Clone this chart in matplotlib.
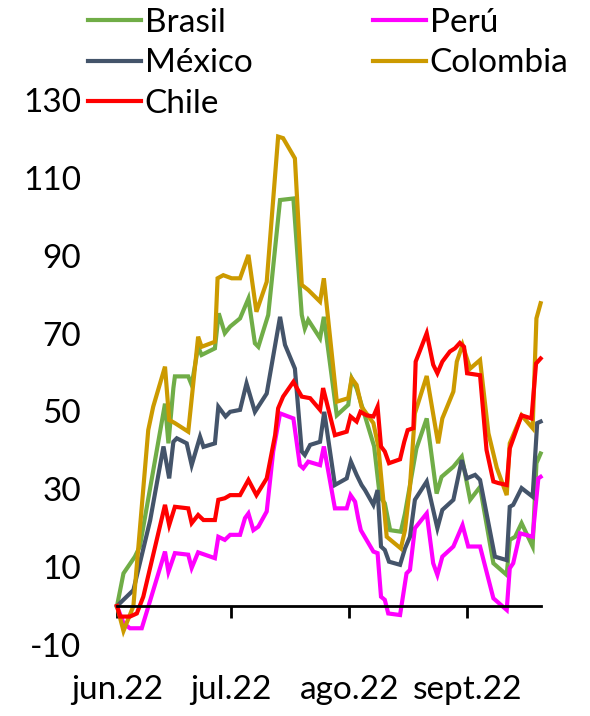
import matplotlib
matplotlib.use("Agg")
import matplotlib.pyplot as plt
import pandas as pd

# ---------------- data (x = days since 2022-06-01) ----------------
series_names = ["Brasil", "Perú", "México", "Colombia", "Chile"]
series_colors = ["#70AD47", "#FF00FF", "#44546A", "#CC9A00", "#FF0000"]

br_d = [0, 1.7, 4.7, 6.0, 12.6, 13.5, 14.8, 15.2, 18.7, 19.6, 21.3, 22.2, 25.7, 26.7, 28.3, 29.7, 32.3, 34.5,
        36.2, 37.1, 39.7, 42.8, 46.3, 48.5, 49.3, 50.2, 53.3, 54.3, 57.7, 60.7, 61.6, 62.9, 67.5, 69.0, 70.3,
        71.7, 74.5, 75.6, 78.6, 81.3, 83.9, 85.2, 88.3, 90.5, 92.7, 95.3, 98.8, 102.3, 103.1, 104.5, 106.2,
        109.1, 110.1, 111.2]
br_v = [0, 8.4, 12.7, 15.3, 52, 41.8, 56, 59, 59, 56.8, 66.6, 64.5, 66.2, 75.2, 70.1, 71.8, 73.9, 79,
        67.5, 66.6, 74.8, 104.3, 104.7, 74.8, 71.3, 73.5, 68.8, 74.3, 49, 51.7, 58.5, 55.9, 41, 28.1, 26.4,
        19.5, 19.1, 23.8, 40.5, 48.2, 28.9, 33.2, 35.8, 38.4, 27.3, 30.6, 11, 8, 17, 17.8, 21.3,
        15.3, 36.7, 39.2]

pe_d = [0, 1.7, 3.4, 6.5, 12.6, 13.5, 15.2, 18.7, 19.6, 21.3, 25.7, 26.6, 28.3, 29.7, 32.3, 33.6, 34.5,
        35.8, 37.1, 39.3, 41.0, 42.8, 46.3, 48.0, 48.9, 50.2, 53.3, 54.3, 57.2, 60.3, 61.3, 62.5, 63.3, 64.0,
        67.3, 68.4, 69.3, 70.3, 71.2, 74.3, 76.0, 76.9, 78.2, 81.3, 83.0, 84.1, 85.4, 88.3, 90.7, 92.2, 95.3,
        98.8, 102.3, 103.1, 104.0, 105.8, 109.1, 110.6, 111.2]
pe_v = [0, -4.4, -5.7, -5.7, 14, 8.8, 13.6, 13.2, 9.8, 13.8, 12.3, 17.8, 17, 18.3, 18.3, 22.6, 23.8,
        19.5, 20.4, 24.3, 39.7, 49.5, 48.2, 36.2, 35.4, 37.1, 36.2, 41, 25.1, 25.1, 28.5, 26.8, 22.6, 19.5,
        14, 13.6, 2.4, 1.6, -1.9, -2.3, 8.4, 9.3, 20, 23.8, 11, 8, 12.7, 15.3, 20.8, 15.3, 15.3,
        2, -1, 9.7, 11, 18.7, 17.8, 32.8, 33.2]

mx_d = [0, 4.3, 8.7, 12.2, 13.7, 14.8, 15.7, 18.3, 19.6, 21.8, 22.7, 25.7, 26.6, 28.5, 29.7, 32.3, 34.0,
        36.2, 39.3, 42.8, 44.1, 46.7, 48.5, 49.3, 50.7, 53.3, 54.4, 57.2, 60.3, 61.4, 62.9, 64.2, 65.1, 67.3,
        68.4, 69.3, 70.3, 71.4, 74.3, 75.6, 76.9, 78.2, 81.3, 84.1, 85.4, 88.3, 90.5, 91.8, 94.0, 95.3, 99.2,
        102.3, 103.1, 104.0, 106.2, 109.1, 110.3, 111.2]
mx_v = [0, 4.1, 22, 41, 32.8, 42.2, 43.1, 41.8, 36.2, 43.5, 40.9, 41.8, 51.2, 48.7, 49.9, 50.4, 57.2,
        49.9, 54.6, 74.3, 67.1, 61, 39.7, 38.8, 41.4, 42.2, 49.9, 31.1, 32.8, 37.1, 33.7, 31.1, 29.8, 26,
        29.8, 15.3, 14.4, 11.4, 10.6, 14.8, 17.8, 27.3, 32, 20, 24.7, 27.3, 37.5, 32.8, 33.7, 32.4, 12.7,
        11.8, 25.5, 26, 30.3, 28.1, 47, 47.4]

co_d = [0, 1.7, 4.3, 8.2, 9.5, 12.6, 13.7, 15.2, 18.7, 21.3, 22.2, 25.7, 26.4, 27.9, 30.1, 32.3, 34.5,
        36.6, 39.3, 42.3, 43.6, 46.7, 48.5, 50.2, 53.3, 54.3, 57.7, 60.7, 61.6, 62.9, 64.2, 67.3, 68.6, 70.8,
        74.5, 75.6, 76.9, 78.2, 81.3, 84.3, 85.4, 88.3, 89.2, 90.7, 92.7, 95.3, 97.5, 99.7, 102.3, 103.1,
        106.2, 109.1, 110.1, 111.2]
co_v = [0, -6.4, 0, 45.2, 51.2, 61.5, 47.8, 47, 44.8, 69.2, 66.6, 67.9, 84.2, 85, 84.2, 84.2, 90.2,
        75.6, 83.3, 120.6, 120.2, 115, 82.5, 81.2, 78.2, 84.2, 52.5, 53.4, 58.5, 56.8, 51.2, 47, 41, 17.8,
        14.8, 19.5, 30.6, 49.5, 59.1, 41.8, 48.2, 55.1, 62.8, 67.1, 61, 63.2, 44.4, 35.5, 28.5, 41.8,
        49, 45.7, 73.9, 77.8]

ch_d = [0, 0.8, 3.4, 5.2, 6.9, 12.6, 13.7, 15.2, 18.7, 19.6, 21.3, 22.7, 25.7, 26.6, 28.3, 29.7, 32.3,
        34.5, 36.6, 39.3, 41.5, 42.3, 43.6, 46.3, 48.5, 50.7, 53.3, 54.1, 57.2, 60.3, 61.3, 62.9, 63.9, 65.5,
        67.3, 68.4, 69.3, 70.3, 71.4, 74.3, 75.4, 76.3, 77.8, 78.4, 81.3, 83.0, 84.1, 85.4, 87.4, 88.7, 90.0,
        91.1, 91.9, 95.3, 97.0, 98.8, 100.1, 102.3, 103.1, 106.2, 108.8, 110.0, 111.2]
ch_v = [0, -2.7, -2.7, -1.9, 2.4, 26, 20.8, 25.5, 25.1, 21.3, 23.4, 22.1, 22.1, 27.3, 27.7, 28.5, 28.5,
        32.4, 28.5, 32.8, 43.9, 50.8, 53.8, 57.6, 53.8, 53.4, 50.4, 56, 43.9, 44.8, 48.7, 47.4, 49.9, 49,
        48.7, 51.2, 41, 39.7, 36.7, 37.7, 42.2, 45.2, 45.7, 62.8, 70.1, 62, 59.8, 62.8, 65.4, 66.2, 67.6,
        66.6, 59.8, 59.3, 40.1, 32, 31.6, 31.1, 40.5, 49, 48.2, 62.3, 63.6]

tick_dates = ["2022-06-01", "2022-07-01", "2022-08-01", "2022-09-01"]
tick_labels = ["jun.22", "jul.22", "ago.22", "sept.22"]
y_ticks = [-10, 10, 30, 50, 70, 90, 110, 130]

# ---------------- plot ----------------
plt.rcParams["font.family"] = ["Lato", "DejaVu Sans"]
FS = 24

fig = plt.figure(figsize=(5.9, 7.16), dpi=100)
ax = fig.add_axes([117 / 590, 71 / 716, (541 - 117) / 590, (645 - 100) / 716])

xs = [br_d, pe_d, mx_d, co_d, ch_d]
ys = [br_v, pe_v, mx_v, co_v, ch_v]
lines = {}
for name, col, xd, yd in zip(series_names, series_colors, xs, ys):
    ln, = ax.plot(xd, yd, color=col, lw=3.0, label=name, solid_joinstyle="miter", clip_on=False)
    lines[name] = ln

ax.set_xlim(0, 111.3)
ax.set_ylim(-10, 130)

base = pd.Timestamp("2022-06-01")
tick_pos = [(pd.Timestamp(d) - base).days for d in tick_dates]
ax.set_xticks(tick_pos)
ax.set_xticklabels(tick_labels)
ax.set_yticks(y_ticks)
ax.set_yticklabels([str(v) for v in y_ticks])

for s in ["top", "right", "left"]:
    ax.spines[s].set_visible(False)
ax.spines["bottom"].set_position(("data", 0))
ax.spines["bottom"].set_linewidth(2.0)
ax.tick_params(axis="x", direction="out", length=8.5, width=2.0, pad=41,
               labelsize=FS, labelcolor="black", color="black")
ax.tick_params(axis="y", length=0, pad=26, labelsize=FS, labelcolor="black")

order = ["Brasil", "México", "Chile", "Perú", "Colombia"]
leg = fig.legend([lines[n] for n in order], order, ncol=2, loc="upper left",
                 bbox_to_anchor=(88 / 590, 1 - 8 / 716), frameon=False,
                 handlelength=1.6, handletextpad=0.1, columnspacing=3.62, labelspacing=0.31,
                 borderpad=0, borderaxespad=0, prop={"size": FS})

fig.savefig("out.png", dpi=100)
